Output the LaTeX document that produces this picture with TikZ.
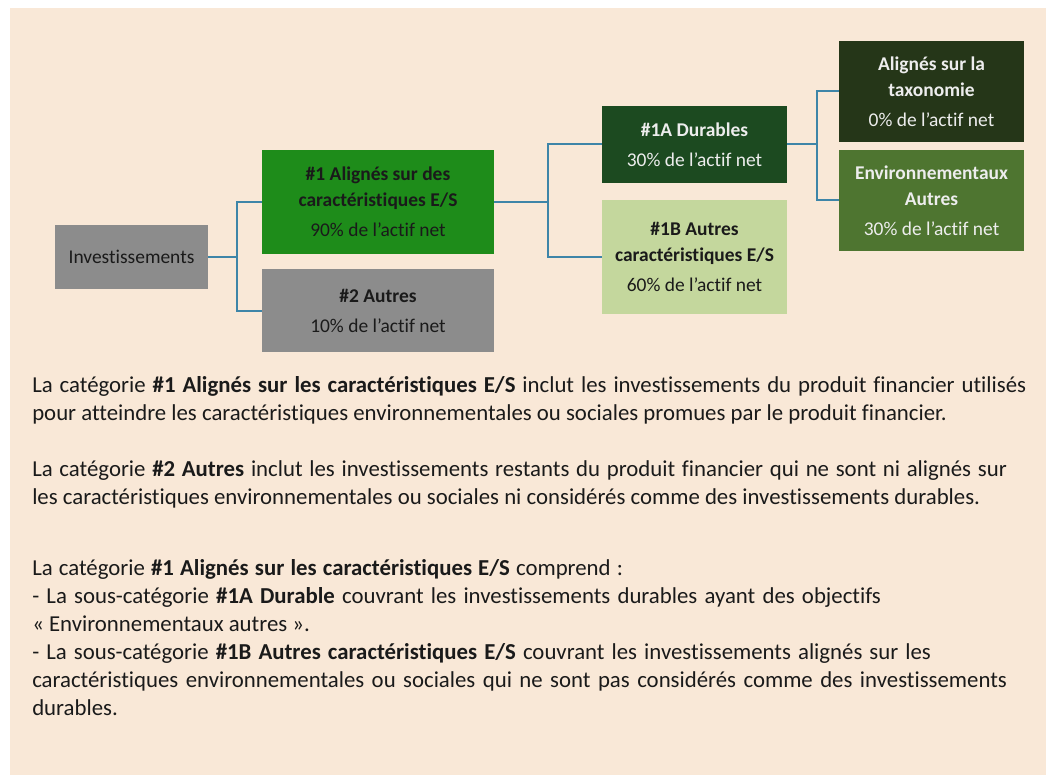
\documentclass[tikz,border=0pt]{standalone}
\usepackage{fontspec}
\setmainfont{Carlito}[Ligatures=NoCommon]
\definecolor{bg}{HTML}{F9E8D7}
\definecolor{grayb}{HTML}{8C8C8C}
\definecolor{green1}{HTML}{1E8C1A}
\definecolor{green1A}{HTML}{1C4A20}
\definecolor{green1B}{HTML}{C4D79D}
\definecolor{greentax}{HTML}{253618}
\definecolor{greenenv}{HTML}{4E7530}
\definecolor{link}{HTML}{3E85A8}
\definecolor{txtdark}{HTML}{1A1A1A}
\definecolor{txtlight}{HTML}{EDEDED}
\newcommand{\jline}[2]{\makebox[#1pt][s]{#2}}
\tikzset{
  sz/.style 2 args={minimum width=#1*0.75pt, minimum height=#2*0.75pt},
  box/.style={inner sep=0pt, align=center, text=txtdark,
    font=\fontsize{14.6}{19.5}\selectfont},
  lightbox/.style={box, text=txtlight},
  conn/.style={draw=link, line width=1.5pt},
  body/.style={anchor=base west, inner sep=0pt, align=left, text=txtdark,
    font=\fontsize{17.1}{21}\selectfont}
}
\begin{document}
\begin{tikzpicture}[x=0.75pt,y=-0.75pt]
\useasboundingbox (0,0) rectangle (1046,775);
\fill[bg] (10,8) rectangle (1046,775);

\node[box, fill=grayb, sz={153}{63.7}] (inv) at (131.5,256.8) {Investissements};
\node[box, fill=green1, sz={232}{103.7}] (n1) at (378,201.8)
  {\textbf{\#1 Alignés sur des}\\\textbf{caractéristiques E/S}\\[3pt]90\% de l’actif net};
\node[box, fill=grayb, sz={232}{83.3}] (n2) at (378,310.7)
  {\textbf{\#2 Autres}\\[3pt]10\% de l’actif net};
\node[lightbox, fill=green1A, sz={185}{76.7}] (n1A) at (694.5,144.3)
  {\textbf{\#1A Durables}\\[3pt]30\% de l’actif net};
\node[box, fill=green1B, sz={185}{113.7}] (n1B) at (694.5,256.8)
  {\textbf{\#1B Autres}\\\textbf{caractéristiques E/S}\\[3pt]60\% de l’actif net};
\node[lightbox, fill=greentax, sz={185}{100.7}] (tax) at (931.5,91.3)
  {\textbf{Alignés sur la}\\\textbf{taxonomie}\\[3pt]0\% de l’actif net};
\node[lightbox, fill=greenenv, sz={185}{100.7}] (env) at (931.5,200.3)
  {\textbf{Environnementaux}\\\textbf{Autres}\\[3pt]30\% de l’actif net};

\draw[conn] (inv.east) -- ++(28.7,0) |- (n1.west);
\draw[conn] (inv.east) -- ++(28.7,0) |- (n2.west);
\draw[conn] (n1.east) -- ++(54,0) |- (n1A.west);
\draw[conn] (n1.east) -- ++(54,0) |- (n1B.west);
\draw[conn] (n1A.east) -- ++(30,0) |- (tax.west);
\draw[conn] (n1A.east) -- ++(30,0) |- (env.west);

% anchor base = baseline of the last line
\node[body] (p1) at (32,420) {\jline{745.5}{La catégorie \textbf{\#1 Alignés sur les caractéristiques E/S} inclut les investissements du produit financier utilisés}\\
pour atteindre les caractéristiques environnementales ou sociales promues par le produit financier.};
\node[body] (p2) at (32,504) {\jline{731}{La catégorie \textbf{\#2 Autres} inclut les investissements restants du produit financier qui ne sont ni alignés sur}\\
les caractéristiques environnementales ou sociales ni considérés comme des investissements durables.};
\node[body] (p3) at (32,715) {\jline{443}{La catégorie \textbf{\#1 Alignés sur les caractéristiques E/S} comprend :}\\
\jline{636.5}{- La sous-catégorie \textbf{\#1A Durable} couvrant les investissements durables ayant des objectifs}\\
« Environnementaux autres ».\\
\jline{674}{- La sous-catégorie \textbf{\#1B Autres caractéristiques E/S} couvrant les investissements alignés sur les}\\
\jline{731}{caractéristiques environnementales ou sociales qui ne sont pas considérés comme des investissements}\\
durables.};
\end{tikzpicture}
\end{document}
